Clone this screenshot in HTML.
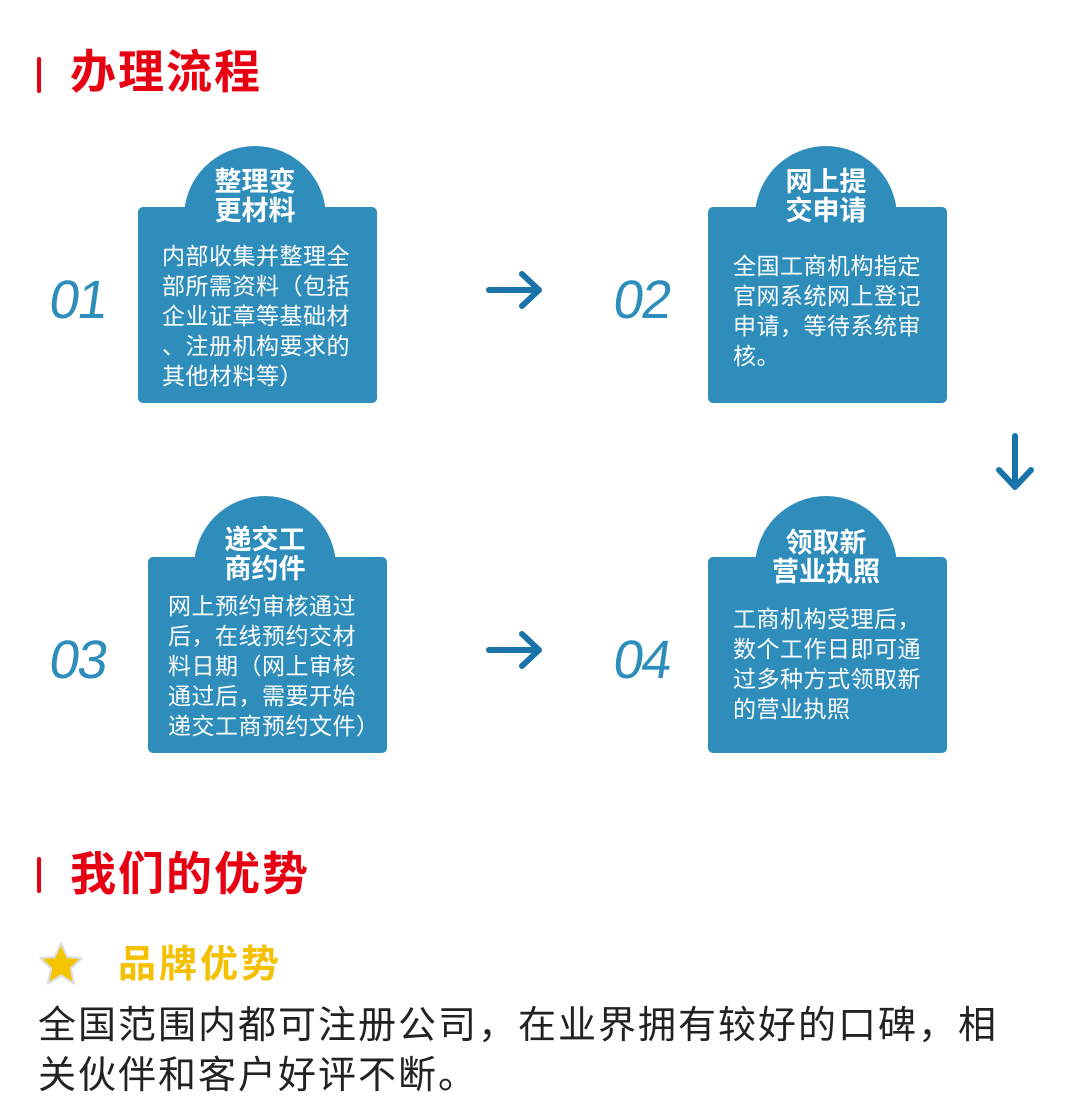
<!DOCTYPE html>
<html><head><meta charset="utf-8"><style>
*{margin:0;padding:0}
body{width:1080px;height:1102px;background:#fff;position:relative;overflow:hidden;font-family:"Liberation Sans","Noto Sans CJK SC",sans-serif}
.a{position:absolute}
.bar{position:absolute;width:4px;height:36px;background:#e60012;border-radius:2px}
.h{position:absolute;color:#e60012;font-weight:bold;font-size:46px;line-height:50px;letter-spacing:2px;white-space:nowrap}
.box{position:absolute;width:239px;height:196px;background:#2e8dbb;border-radius:5px}
.dome{position:absolute;width:142px;height:142px;border-radius:50%;background:#2e8dbb}
.tt{position:absolute;width:142px;text-align:center;color:#fff;font-weight:bold;font-size:27px;line-height:29px;white-space:nowrap}
.bt{position:absolute;color:#fff;font-size:23px;line-height:30px;white-space:nowrap;letter-spacing:0.5px}
.num{position:absolute;color:#2e8dbb;font-size:54px;font-weight:normal;transform:skewX(-8deg);letter-spacing:-2px;line-height:54px}
</style></head><body>
<div class="bar" style="left:37px;top:57px"></div>
<div class="h" style="left:70px;top:47px">办理流程</div>

<div class="dome" style="left:184px;top:146px"></div>
<div class="box" style="left:138px;top:207px"></div>
<div class="tt" style="left:184px;top:168px">整理变<br>更材料</div>
<div class="bt" style="left:162px;top:241px">内部收集并整理全<br>部所需资料（包括<br>企业证章等基础材<br>、注册机构要求的<br>其他材料等）</div>
<div class="num" style="left:50px;top:273px">01</div>

<div class="dome" style="left:755px;top:146px"></div>
<div class="box" style="left:708px;top:207px"></div>
<div class="tt" style="left:755px;top:168px">网上提<br>交申请</div>
<div class="bt" style="left:733px;top:251px">全国工商机构指定<br>官网系统网上登记<br>申请，等待系统审<br>核。</div>
<div class="num" style="left:614px;top:273px">02</div>

<div class="dome" style="left:194px;top:496px"></div>
<div class="box" style="left:148px;top:557px"></div>
<div class="tt" style="left:194px;top:526px">递交工<br>商约件</div>
<div class="bt" style="left:168px;top:591px">网上预约审核通过<br>后，在线预约交材<br>料日期（网上审核<br>通过后，需要开始<br>递交工商预约文件）</div>
<div class="num" style="left:50px;top:633px">03</div>

<div class="dome" style="left:755px;top:496px"></div>
<div class="box" style="left:708px;top:557px"></div>
<div class="tt" style="left:755px;top:529px">领取新<br>营业执照</div>
<div class="bt" style="left:733px;top:604px">工商机构受理后，<br>数个工作日即可通<br>过多种方式领取新<br>的营业执照</div>
<div class="num" style="left:614px;top:633px">04</div>

<svg class="a" style="left:0;top:0" width="1080" height="800">
<g stroke="#1a73a8" stroke-width="6" fill="none" stroke-linecap="round" stroke-linejoin="round">
<path d="M489 290H538M522 274L539 290L522 306"/>
<path d="M489 650H538M522 634L539 650L522 666"/>
<path d="M1015 436V486M999 470L1015 487L1031 470"/>
</g></svg>

<div class="bar" style="left:37px;top:857px"></div>
<div class="h" style="left:70px;top:849px">我们的优势</div>
<svg class="a" style="left:36px;top:941px" width="50" height="46" viewBox="0 0 46 42">
<polygon points="23,2 28.8,14.5 42,15.8 32,25 35,39 23,31.5 11,39 14,25 4,15.8 17.2,14.5" fill="#f5c400" stroke="#ddd" stroke-width="2" stroke-linejoin="round"/></svg>
<div class="a" style="left:118px;top:943px;color:#f5c000;font-weight:bold;font-size:38px;line-height:44px;letter-spacing:3px;white-space:nowrap">品牌优势</div>
<div class="a" style="left:38px;top:1001px;color:#222;font-size:38px;line-height:50px;letter-spacing:2px;white-space:nowrap">全国范围内都可注册公司，在业界拥有较好的口碑，相<br>关伙伴和客户好评不断。</div>
</body></html>
